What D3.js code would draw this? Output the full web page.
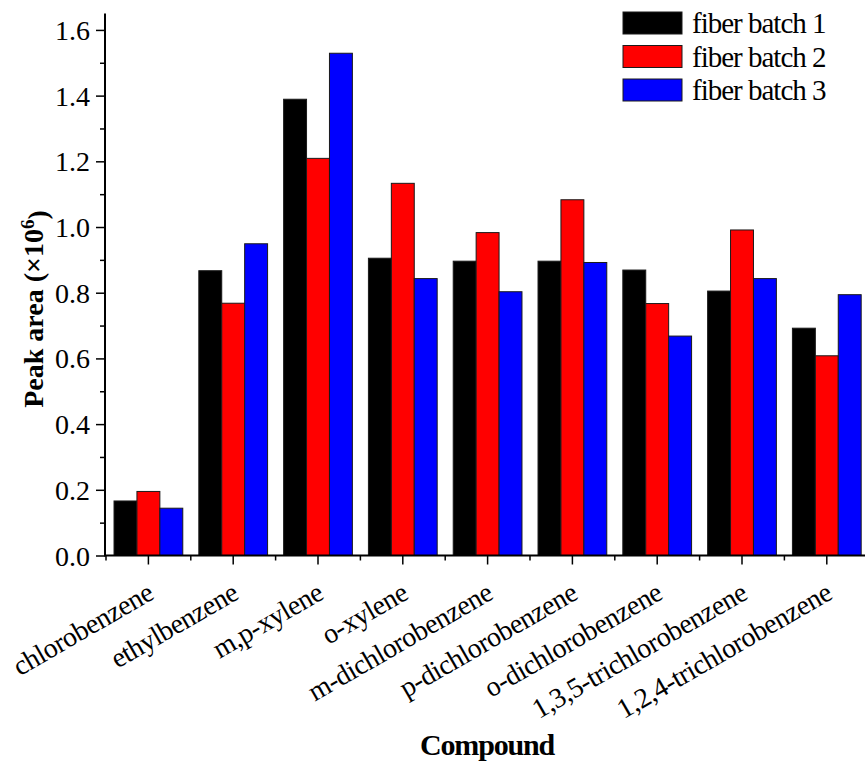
<!DOCTYPE html>
<html>
<head>
<meta charset="utf-8">
<script src="https://cdn.jsdelivr.net/npm/d3@7"></script>
<style>
  body { margin: 0; background: #fff; }
  svg text { font-family: "Liberation Serif", "Times New Roman", serif; fill: #000; }
</style>
</head>
<body>
<svg id="chart" width="865" height="764"></svg>
<script>
// compounds on the x axis
const categories = ['chlorobenzene', 'ethylbenzene', 'm,p-xylene', 'o-xylene',
  'm-dichlorobenzene', 'p-dichlorobenzene', 'o-dichlorobenzene',
  '1,3,5-trichlorobenzene', '1,2,4-trichlorobenzene'];

// peak areas (x10^6), one array per fiber batch
const batch1 = [0.166, 0.867, 1.389, 0.905, 0.896, 0.896, 0.869, 0.805, 0.692];
const batch2 = [0.195, 0.768, 1.209, 1.133, 0.983, 1.083, 0.767, 0.991, 0.608];
const batch3 = [0.144, 0.949, 1.529, 0.843, 0.803, 0.892, 0.668, 0.843, 0.794];

const seriesNames = ['fiber batch 1', 'fiber batch 2', 'fiber batch 3'];
const seriesColors = ['#000000', '#ff0000', '#0000ff'];
const yMajorTicks = [0, 0.2, 0.4, 0.6, 0.8, 1.0, 1.2, 1.4, 1.6];
const yMinorTicks = [0.1, 0.3, 0.5, 0.7, 0.9, 1.1, 1.3, 1.5];

const svg = d3.select('#chart');

const plotLeft = 105, plotBottom = 555.5, plotTop = 13.5;
const step = 84.8;

const x = d3.scaleBand()
  .domain(categories)
  .range([plotLeft + 1, plotLeft + 1 + step * categories.length])
  .padding(0);

const xSub = d3.scaleBand()
  .domain(seriesNames)
  .range([0, x.bandwidth()])
  .paddingInner(0)
  .paddingOuter(0.35);

const y = d3.scaleLinear().domain([0, 1.65]).range([plotBottom, plotTop]);

const allSeries = [batch1, batch2, batch3];

// bars
const groups = svg.append('g')
  .selectAll('g')
  .data(categories)
  .join('g')
  .attr('transform', function(d) { return 'translate(' + x(d) + ',0)'; });

groups.selectAll('rect')
  .data(function(d, i) {
    return allSeries.map(function(vals, s) { return { name: seriesNames[s], value: vals[i], color: seriesColors[s] }; });
  })
  .join('rect')
  .attr('x', function(d) { return xSub(d.name); })
  .attr('width', xSub.bandwidth())
  .attr('y', function(d) { return y(d.value); })
  .attr('height', function(d) { return plotBottom - y(d.value); })
  .attr('fill', function(d) { return d.color; })
  .attr('stroke', '#1a1a1a')
  .attr('stroke-width', 1);

// y axis: major + minor ticks
const yAxis = svg.append('g')
  .attr('transform', 'translate(' + plotLeft + ',0)')
  .call(d3.axisLeft(y).tickValues(yMajorTicks).tickFormat(d3.format('.1f')).tickSize(9).tickPadding(6));
svg.append('g')
  .attr('transform', 'translate(' + plotLeft + ',0)')
  .call(d3.axisLeft(y).tickValues(yMinorTicks).tickFormat('').tickSize(5))
  .select('.domain').remove();

yAxis.select('.domain').attr('d', 'M0,' + (plotBottom + 1) + 'V' + plotTop);
yAxis.selectAll('text')
  .style('font-size', '28px')
  .style('letter-spacing', '0px')
  .attr('dy', '0.34em');

// x axis: major ticks at compound centres, minor at boundaries
const xAxis = svg.append('g')
  .attr('transform', 'translate(0,' + plotBottom + ')')
  .call(d3.axisBottom(x).tickSize(9).tickFormat(''));
xAxis.select('.domain').attr('d', 'M' + plotLeft + ',0H865');

svg.append('g')
  .attr('transform', 'translate(0,' + plotBottom + ')')
  .selectAll('line')
  .data(categories)
  .join('line')
  .attr('x1', function(d) { return x(d); })
  .attr('x2', function(d) { return x(d); })
  .attr('y1', 0)
  .attr('y2', 5)
  .attr('stroke', '#000')
  .attr('stroke-width', 1.5);

svg.selectAll('.domain').attr('stroke', '#000').attr('stroke-width', 2);
svg.selectAll('.tick line').attr('stroke', '#000').attr('stroke-width', 1.5);

// rotated compound labels
svg.append('g')
  .selectAll('text')
  .data(categories)
  .join('text')
  .attr('transform', function(d) {
    return 'translate(' + (x(d) + x.bandwidth() / 2 + 7) + ',598) rotate(-30)';
  })
  .attr('text-anchor', 'end')
  .style('font-size', '28px')
  .style('letter-spacing', '-0.5px')
  .text(function(d) { return d; });

// axis titles
svg.append('text')
  .attr('x', 487)
  .attr('y', 755)
  .attr('text-anchor', 'middle')
  .style('font-size', '30px')
  .style('font-weight', 'bold')
  .style('letter-spacing', '-1.2px')
  .text('Compound');

const yTitle = svg.append('text')
  .attr('transform', 'translate(43,309) rotate(-90)')
  .attr('text-anchor', 'middle')
  .style('font-size', '28px')
  .style('font-weight', 'bold')
  .style('letter-spacing', '0px');
yTitle.append('tspan').text('Peak area (\u00d710');
yTitle.append('tspan').attr('dy', '-0.45em').style('font-size', '19px').text('6');
yTitle.append('tspan').attr('dy', '0.45em').text(')');

// legend
const legend = svg.append('g')
  .selectAll('g')
  .data(seriesNames)
  .join('g')
  .attr('transform', function(d, i) { return 'translate(623,' + (12 + i * 33.5) + ')'; });

legend.append('rect')
  .attr('width', 59)
  .attr('height', 22)
  .attr('fill', function(d, i) { return seriesColors[i]; })
  .attr('stroke', '#1a1a1a')
  .attr('stroke-width', 1);

legend.append('text')
  .attr('x', 69)
  .attr('y', 21)
  .style('font-size', '29px')
  .style('letter-spacing', '-1px')
  .text(function(d) { return d; });
</script>
</body>
</html>
